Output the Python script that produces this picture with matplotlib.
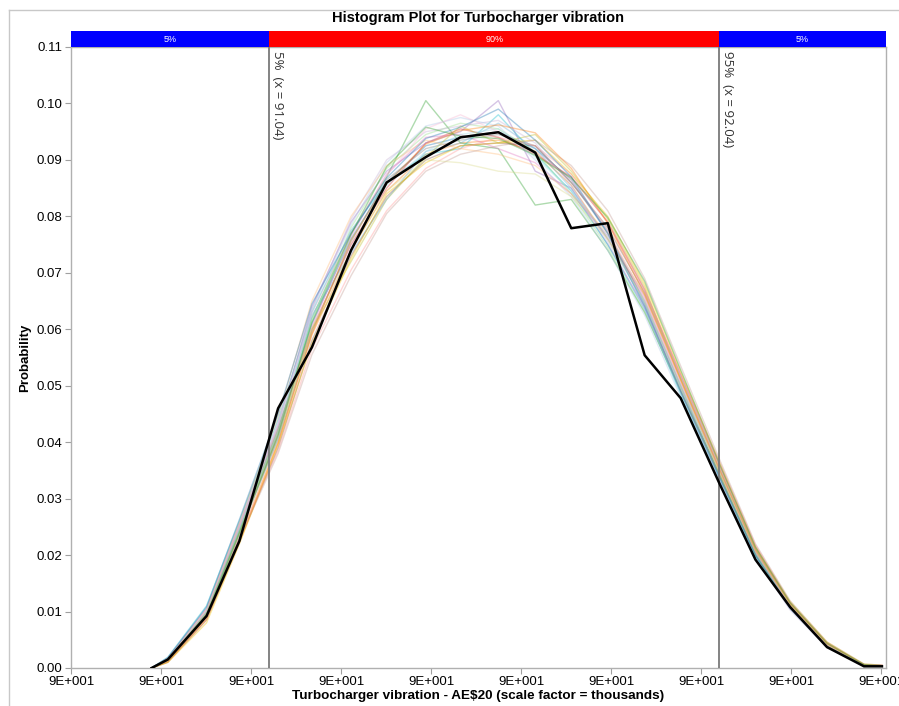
import matplotlib
matplotlib.use("Agg")
import matplotlib.pyplot as plt
from matplotlib.patches import Rectangle
from matplotlib.lines import Line2D

plt.rcParams['font.family'] = ['Liberation Sans', 'DejaVu Sans']

# ---- data ----
x_vals = [90.779, 90.815, 90.901, 90.974, 91.060, 91.135, 91.222, 91.301, 91.388, 91.465,
          91.549, 91.631, 91.711, 91.792, 91.874, 91.954, 92.040, 92.120, 92.197, 92.279,
          92.361, 92.401]

main_curve = [0.0, 0.0015, 0.0092, 0.0225, 0.0460, 0.0568, 0.0740, 0.0860, 0.0905, 0.0940,
              0.0949, 0.0913, 0.0779, 0.0788, 0.0554, 0.0478, 0.0327, 0.0192, 0.0108, 0.0037,
              0.0003, 0.0003]

# simulation curves, values in thousandths
sim_1 = [0, 1.6, 10.0, 24.5, 42, 61, 76, 86, 92.5, 94, 95, 92, 86.5, 77, 65, 50, 34, 20.5, 11, 4, 0.6, 0.4]
sim_2 = [0, 1.2, 9.0, 23, 40, 59, 74, 84.5, 91, 93, 93.5, 91.5, 85.5, 76, 66, 51, 35, 21, 11.5, 4.5, 0.5, 0.3]
sim_3 = [0, 1.5, 9.5, 24, 41, 62, 77, 87, 100.5, 93, 92, 82, 83, 74, 63, 49, 34.5, 20, 10.8, 3.8, 0.4, 0.3]
sim_4 = [0, 1.4, 9.8, 25, 42.5, 60, 75, 85, 93, 95.5, 94, 91, 87, 79, 67, 52, 36, 21.5, 11.5, 4.2, 0.6, 0.4]
sim_5 = [0, 1.8, 10.5, 25.5, 43, 64, 79, 88, 93, 95, 100.5, 88, 85, 75, 64, 49.5, 34, 20, 10.5, 3.9, 0.5, 0.5]
sim_6 = [0, 1.0, 8.5, 22.5, 39, 58, 73, 83.5, 90, 92.5, 93, 92.5, 86, 78, 66.5, 51.5, 35.5, 21, 11.2, 4.1, 0.4, 0.3]
sim_7 = [0, 1.3, 9.2, 23.5, 41.5, 60.5, 76.5, 87.5, 94, 94.5, 92, 89.5, 84, 76.5, 65.5, 50.5, 35.5, 20.8, 11, 4.3, 0.6, 0.5]
sim_8 = [0, 1.5, 9.6, 24.2, 40.5, 59.5, 75.5, 86.5, 92, 93.5, 94.5, 92.5, 86, 77.5, 64.5, 49, 34.2, 20.3, 10.9, 4.0, 0.5, 0.3]
sim_9 = [0, 1.1, 9.0, 23.8, 41, 60, 72, 83, 90.5, 96, 93, 94.5, 88, 79.5, 67.5, 51, 34.5, 20.6, 11.3, 4.0, 0.4, 0.3]
sim_10 = [0, 1.9, 11, 26, 44, 63, 77.5, 86, 91, 92, 98, 91, 84.5, 75, 63.5, 48.5, 33.5, 19.8, 10.6, 3.7, 0.5, 0.4]
sim_11 = [0, 1.4, 9.4, 24.4, 42, 62.5, 73.5, 83, 91.5, 93, 96.5, 92, 85, 76, 64.5, 50, 35, 20.8, 11.2, 4.2, 0.6, 0.4]
sim_12 = [0, 1.0, 8.0, 22, 39.5, 57.5, 72.5, 84, 89.5, 92.5, 93, 93.5, 87.5, 80, 68, 52.5, 36.5, 21.5, 11.8, 4.6, 0.7, 0.5]
sim_13 = [0, 1.5, 9.9, 24.6, 42.2, 61.5, 78, 88.5, 94.5, 96.5, 95.5, 91.5, 84, 74.5, 63, 49.5, 34, 20.2, 10.8, 3.9, 0.5, 0.3]
sim_14 = [0, 1.3, 8.8, 23.2, 38.5, 56.5, 70.5, 81, 88.5, 92, 94, 92.5, 87.5, 79, 67, 52, 36.5, 21.8, 11.6, 4.4, 0.6, 0.4]
sim_15 = [0, 1.7, 10.2, 25.2, 43.5, 63.5, 79.5, 90, 95, 96, 97, 93, 85.5, 75.5, 63.5, 49, 33.5, 19.5, 10.3, 3.6, 0.4, 0.3]
sim_16 = [0, 1.6, 10.1, 24.8, 43, 62, 76, 85.5, 91.5, 94.5, 95.5, 90.5, 84.5, 76.5, 66, 51.5, 35.5, 21.2, 11.4, 4.2, 0.6, 0.4]
sim_17 = [0, 1.2, 9.3, 23.6, 40.8, 63.5, 78.5, 89.5, 96, 97.5, 96, 90, 83.5, 74, 62.5, 48, 33, 19.5, 10.4, 3.7, 0.4, 0.3]
sim_18 = [0, 1.7, 10.4, 25.8, 44.5, 65, 80, 89, 93.5, 92, 91, 89, 84, 77, 66, 51, 35.5, 21, 11.2, 4.1, 0.5, 0.4]
sim_19 = [0, 1.4, 9.1, 22.8, 38, 55.5, 69.5, 80.5, 88, 91, 92.5, 93.5, 89, 81, 69, 53.5, 37, 22, 11.9, 4.6, 0.7, 0.5]
sim_20 = [0, 1.6, 10.3, 25.1, 43.2, 62.8, 77.2, 87.2, 95.5, 98, 95, 91.5, 86.5, 77.5, 65.5, 50.5, 34.8, 20.6, 11, 4.1, 0.5, 0.4]
sim_21 = [0, 1.3, 9.7, 24, 41.8, 60.2, 74, 84.5, 90, 89.5, 88, 87.5, 83.5, 76, 65, 50, 35, 21, 11.3, 4.3, 0.6, 0.4]
sim_22 = [0, 1.8, 10.8, 26.3, 45, 64.5, 77, 86.8, 93.8, 95.8, 99, 93.5, 87, 77, 64, 49, 33.8, 20, 10.7, 3.8, 0.5, 0.3]
sim_23 = [0, 1.1, 8.6, 22.2, 39.8, 59.2, 75.8, 85.8, 92.8, 95.2, 96.2, 94.8, 88.5, 78.8, 66.2, 51.2, 35.2, 21, 11.4, 4.3, 0.6, 0.4]
sim_24 = [0, 1.5, 9.4, 23.9, 41.4, 61.2, 76.8, 88.8, 95.8, 94.2, 93.8, 90.8, 86.8, 79.8, 68.5, 52.8, 36.2, 21.4, 11.6, 4.4, 0.6, 0.4]
sims = [sim_1, sim_2, sim_3, sim_4, sim_5, sim_6, sim_7, sim_8, sim_9, sim_10, sim_11, sim_12,
        sim_13, sim_14, sim_15, sim_16, sim_17, sim_18, sim_19, sim_20, sim_21, sim_22, sim_23, sim_24]

sim_colors = ['#1f77b4', '#ff7f0e', '#2ca02c', '#d62728', '#9467bd', '#8c564b', '#e377c2',
              '#7f7f7f', '#bcbd22', '#17becf', '#6baed6', '#f2c200', '#98df8a', '#ff9896',
              '#c5b0d5', '#9edae5', '#aec7e8', '#ffbb78', '#c49c94', '#f7b6d2', '#dbdb8d',
              '#1f77b4', '#ff7f0e', '#2ca02c']

p_low, p_high = 91.04, 92.04
p_low_text = '5%  (x = 91.04)'
p_high_text = '95%  (x = 92.04)'
band_labels = ['5%', '90%', '5%']
band_colors = ['#0000ff', '#ff0000', '#0000ff']

x_ticks = [90.6, 90.8, 91.0, 91.2, 91.4, 91.6, 91.8, 92.0, 92.2, 92.4]
x_tick_labels = ['9E+001'] * len(x_ticks)
y_ticks = [0.00, 0.01, 0.02, 0.03, 0.04, 0.05, 0.06, 0.07, 0.08, 0.09, 0.10, 0.11]
x_min, x_max = 90.6, 92.41
y_max = 0.11

# ---- figure ----
fig = plt.figure(figsize=(8.99, 7.06), dpi=100)
ax = fig.add_axes([71/899, 1-668/706, (886-71)/899, (668-47)/706])

for s, c in zip(sims, sim_colors):
    ax.plot(x_vals, [v/1000 for v in s], color=c, alpha=0.38, lw=1.0, zorder=2)
ax.plot(x_vals, main_curve, color='black', lw=1.8, zorder=4)

for xv in (p_low, p_high):
    ax.axvline(xv, color='#7a7a7a', lw=1.3, zorder=3)

for xv, t in ((p_low, p_low_text), (p_high, p_high_text)):
    ax.annotate(t, xy=(xv, y_max), xytext=(1, -3), textcoords='offset points',
                rotation=270, ha='left', va='top', fontsize=9.5, color='#333333',
                family=['Open Sans', 'DejaVu Sans'])

ax.set_xlim(x_min, x_max)
ax.set_ylim(0, y_max)
ax.set_xticks(x_ticks)
ax.set_xticklabels(x_tick_labels)
ax.set_yticks(y_ticks)
ax.set_yticklabels([f'{v:.2f}' for v in y_ticks])
ax.tick_params(axis='both', labelsize=9.5, length=4, color='#a0a0a0', pad=2)
for sp in ax.spines.values():
    sp.set_color('#b0b0b0')
    sp.set_linewidth(1.0)

ax.set_ylabel('Probability', fontsize=9.5, fontweight='bold', labelpad=4)
ax.set_xlabel('Turbocharger vibration - AE$20 (scale factor = thousands)',
              fontsize=9.7, fontweight='bold', labelpad=1)

# top percentile band
bax = fig.add_axes([71/899, 1-47/706, (886-71)/899, 16/706], sharex=ax)
bax.set_ylim(0, 1)
edges = [x_min, p_low, p_high, x_max]
for i in range(3):
    bax.add_patch(Rectangle((edges[i], 0), edges[i+1]-edges[i], 1, color=band_colors[i], lw=0))
    bax.text((edges[i]+edges[i+1])/2, 0.5, band_labels[i], color='white', fontsize=6.5,
             ha='center', va='center')
bax.axis('off')

fig.text(478/899, 1-18/706, 'Histogram Plot for Turbocharger vibration', ha='center',
         va='center', fontsize=10.5, fontweight='bold')

# outer frame (top and left edges visible)
fig.add_artist(Line2D([9/899, 1.0], [1-10/706, 1-10/706], transform=fig.transFigure,
                      color='#c8c8c8', lw=1))
fig.add_artist(Line2D([9/899, 9/899], [0, 1-10/706], transform=fig.transFigure,
                      color='#c8c8c8', lw=1))

fig.savefig('out.png', dpi=100)
